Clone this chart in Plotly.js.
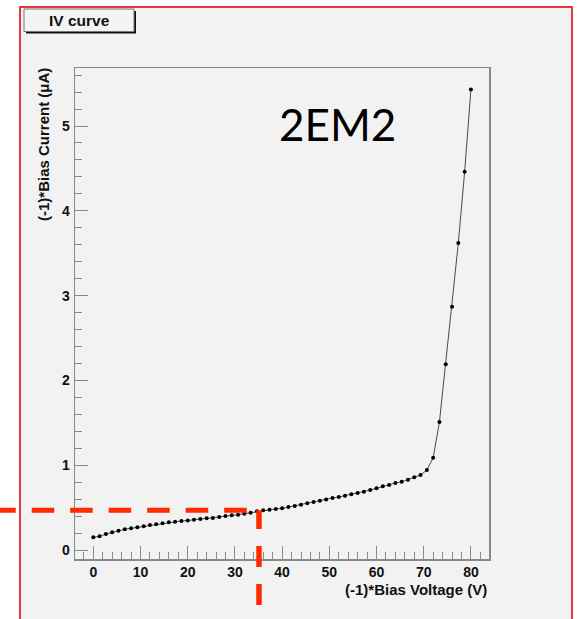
<!DOCTYPE html>
<html>
<head>
<meta charset="utf-8">
<script src="https://cdn.plot.ly/plotly-3.0.1.min.js"></script>
<style>html,body{margin:0;padding:0;background:#fff;}#chart{width:577px;height:619px;}</style>
</head>
<body>
<div id="chart"></div>
<script>
// ---- data ----
const biasVoltage = [0, 1.33, 2.67, 4, 5.33, 6.67, 8, 9.33, 10.67, 12, 13.33, 14.67, 16, 17.33, 18.67,
  20, 21.33, 22.67, 24, 25.33, 26.67, 28, 29.33, 30.67, 32, 33.33, 34.67, 36, 37.33, 38.67,
  40, 41.33, 42.67, 44, 45.33, 46.67, 48, 49.33, 50.67, 52, 53.33, 54.67, 56, 57.33, 58.67,
  60, 61.33, 62.67, 64, 65.33, 66.67, 68, 69.33, 70.67, 72, 73.33, 74.67, 76, 77.33, 78.67, 80];
const biasCurrent = [0.150, 0.161, 0.189, 0.208, 0.227, 0.244, 0.256, 0.267, 0.279, 0.295, 0.303, 0.315, 0.327, 0.334, 0.342,
  0.348, 0.356, 0.366, 0.374, 0.378, 0.389, 0.401, 0.409, 0.416, 0.428, 0.440, 0.456, 0.468, 0.475, 0.485,
  0.491, 0.507, 0.519, 0.534, 0.550, 0.566, 0.581, 0.597, 0.613, 0.625, 0.640, 0.657, 0.672, 0.688, 0.708,
  0.727, 0.751, 0.767, 0.790, 0.805, 0.829, 0.857, 0.884, 0.943, 1.088, 1.51, 2.19, 2.87, 3.62, 4.46, 5.43];
const xTickVals = [0, 10, 20, 30, 40, 50, 60, 70, 80];
const yTickVals = [0, 1, 2, 3, 4, 5];
const chartTitle = 'IV curve';
const xTitle = '(-1)*Bias Voltage (V)';
const yTitle = '(-1)*Bias Current (μA)';
const sampleLabel = '2EM2';
const markerVoltage = [35.1];   // red dashed guide (vertical)
const markerCurrent = [0.47];   // red dashed guide (horizontal)

// ---- layout geometry ----
const W = 577, H = 619;
const M = {l: 75, r: 88, t: 68, b: 60};
const xRange = [-3.88, 83.83];
const yRange = [-0.106, 5.684];
const pw = W - M.l - M.r, ph = H - M.t - M.b;
const px2X = p => (p - M.l) / pw;
const px2Y = p => (H - M.b - p) / ph;
const dX = v => (v - xRange[0]) / (xRange[1] - xRange[0]);
const dY = v => (v - yRange[0]) / (yRange[1] - yRange[0]);

const axisGray = '#8a8a8a';
const tickFont = {family: 'Liberation Sans, Arial, sans-serif', size: 14, color: '#111', weight: 'bold'};
const red = '#ff2a00';

const trace = {
  x: biasVoltage, y: biasCurrent, type: 'scatter', mode: 'lines+markers',
  line: {color: '#4a4a4a', width: 1},
  marker: {color: '#000', size: 4, symbol: 'circle'},
  hoverinfo: 'skip', showlegend: false
};

const layout = {
  width: W, height: H,
  margin: M,
  paper_bgcolor: '#ffffff',
  plot_bgcolor: 'rgba(0,0,0,0)',
  showlegend: false,
  xaxis: {
    range: xRange, tickmode: 'array', tickvals: xTickVals,
    ticks: 'inside', ticklen: 13, tickwidth: 1, tickcolor: axisGray,
    minor: {dtick: 2, ticks: 'inside', ticklen: 7, tickwidth: 1, tickcolor: axisGray, showgrid: false},
    showline: true, linecolor: axisGray, linewidth: 1.5, mirror: true,
    showgrid: false, zeroline: false, tickfont: tickFont, ticklabelstandoff: 0
  },
  yaxis: {
    range: yRange, tickmode: 'array', tickvals: yTickVals,
    ticks: 'inside', ticklen: 13, tickwidth: 1, tickcolor: axisGray,
    minor: {dtick: 0.2, ticks: 'inside', ticklen: 7, tickwidth: 1, tickcolor: axisGray, showgrid: false},
    showline: true, linecolor: axisGray, linewidth: 1.5, mirror: true,
    showgrid: false, zeroline: false, tickfont: tickFont, ticklabelstandoff: 1
  },
  shapes: [
    // outer red frame with gray canvas
    {type: 'rect', xref: 'paper', yref: 'paper', layer: 'below',
     x0: px2X(20), x1: px2X(572), y0: px2Y(7), y1: px2Y(660),
     fillcolor: '#f2f2f2', line: {color: '#e23a3a', width: 2}},
    // title box shadow
    {type: 'rect', xref: 'paper', yref: 'paper', layer: 'below',
     x0: px2X(26), x1: px2X(136), y0: px2Y(11), y1: px2Y(33.5),
     fillcolor: '#111', line: {width: 0}},
    // title box
    {type: 'rect', xref: 'paper', yref: 'paper', layer: 'below',
     x0: px2X(24), x1: px2X(134), y0: px2Y(9), y1: px2Y(31.5),
     fillcolor: '#f4f4f4', line: {color: '#777', width: 1}},
    // red dashed horizontal guide
    {type: 'line', xref: 'paper', yref: 'paper', layer: 'above',
     x0: px2X(-6.8), x1: dX(markerVoltage[0]), y0: dY(markerCurrent[0]), y1: dY(markerCurrent[0]),
     line: {color: red, width: 5, dash: '22.5px,16px'}},
    // red dashed vertical guide
    {type: 'line', xref: 'paper', yref: 'paper', layer: 'above',
     x0: dX(markerVoltage[0]), x1: dX(markerVoltage[0]), y0: px2Y(605), y1: dY(markerCurrent[0]),
     line: {color: red, width: 5.5, dash: '21px,17px'}}
  ],
  annotations: [
    {text: chartTitle, xref: 'paper', yref: 'paper', x: px2X(79), y: px2Y(20.5),
     xanchor: 'center', yanchor: 'middle', showarrow: false,
     font: {family: 'Liberation Sans, Arial, sans-serif', size: 15.5, color: '#111', weight: 'bold'}},
    {text: xTitle, xref: 'paper', yref: 'paper', x: 1, y: px2Y(589),
     xanchor: 'right', yanchor: 'middle', showarrow: false,
     font: {family: 'Liberation Sans, Arial, sans-serif', size: 15, color: '#111', weight: 'bold'}},
    {text: yTitle, xref: 'paper', yref: 'paper', x: px2X(43.5), y: px2Y(66),
     xanchor: 'center', yanchor: 'top', textangle: -90, showarrow: false,
     font: {family: 'Liberation Sans, Arial, sans-serif', size: 15, color: '#111', weight: 'bold'}},
    {text: sampleLabel, xref: 'paper', yref: 'paper', x: px2X(337), y: px2Y(124),
     xanchor: 'center', yanchor: 'middle', showarrow: false,
     font: {family: 'Lato, Carlito, Open Sans, sans-serif', size: 44, color: '#000'}}
  ]
};

Plotly.newPlot('chart', [trace], layout, {displayModeBar: false, staticPlot: true});
</script>
</body>
</html>
